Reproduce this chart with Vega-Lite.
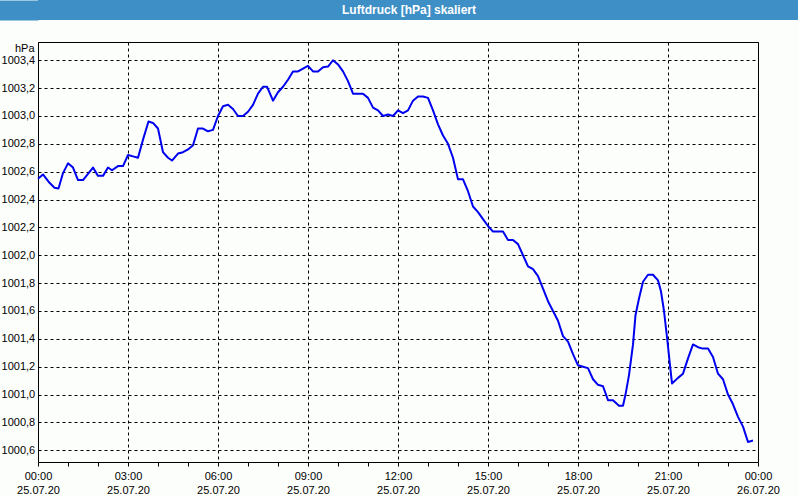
{
  "$schema": "https://vega.github.io/schema/vega-lite/v6.json",
  "background": "#fcfefc",
  "padding": {"left": 0, "top": 0, "right": 0, "bottom": 0},
  "spacing": 21,
  "config": {
    "view": {"stroke": "#000000", "strokeWidth": 1},
    "font": "Liberation Sans"
  },
  "vconcat": [
    {
      "width": 760,
      "height": 20,
      "view": {"fill": "#3d8fc6", "stroke": null},
      "data": {"values": [{"title": "Luftdruck [hPa] skaliert", "mid": 0.5}]},
      "mark": {"type": "text", "color": "#ffffff", "font": "Liberation Sans", "fontSize": 12, "fontWeight": "bold", "baseline": "middle", "align": "center", "dx": -9},
      "encoding": {
        "text": {"field": "title", "type": "nominal"},
        "y": {
          "field": "mid",
          "type": "quantitative",
          "scale": {"domain": [0, 1], "nice": false, "zero": false},
          "axis": {
            "title": null,
            "labels": false,
            "ticks": false,
            "grid": false,
            "domain": true,
            "domainColor": "#3d8fc6",
            "domainWidth": 40,
            "domainCap": "butt",
            "offset": 20
          }
        }
      }
    },
    {
      "width": 720,
      "height": 420,
      "data": {"values": [
        {"t": "2020-07-25T00:00:00Z", "p": 1002.55},
        {"t": "2020-07-25T00:10:00Z", "p": 1002.58},
        {"t": "2020-07-25T00:23:00Z", "p": 1002.52},
        {"t": "2020-07-25T00:33:00Z", "p": 1002.485},
        {"t": "2020-07-25T00:41:00Z", "p": 1002.48},
        {"t": "2020-07-25T00:50:00Z", "p": 1002.59},
        {"t": "2020-07-25T01:00:00Z", "p": 1002.66},
        {"t": "2020-07-25T01:10:00Z", "p": 1002.63},
        {"t": "2020-07-25T01:20:00Z", "p": 1002.54},
        {"t": "2020-07-25T01:30:00Z", "p": 1002.54},
        {"t": "2020-07-25T01:50:00Z", "p": 1002.63},
        {"t": "2020-07-25T02:00:00Z", "p": 1002.57},
        {"t": "2020-07-25T02:10:00Z", "p": 1002.57},
        {"t": "2020-07-25T02:20:00Z", "p": 1002.63},
        {"t": "2020-07-25T02:28:00Z", "p": 1002.61},
        {"t": "2020-07-25T02:40:00Z", "p": 1002.64},
        {"t": "2020-07-25T02:50:00Z", "p": 1002.64},
        {"t": "2020-07-25T03:00:00Z", "p": 1002.72},
        {"t": "2020-07-25T03:10:00Z", "p": 1002.71},
        {"t": "2020-07-25T03:20:00Z", "p": 1002.70},
        {"t": "2020-07-25T03:30:00Z", "p": 1002.83},
        {"t": "2020-07-25T03:41:00Z", "p": 1002.96},
        {"t": "2020-07-25T03:50:00Z", "p": 1002.95},
        {"t": "2020-07-25T04:00:00Z", "p": 1002.91},
        {"t": "2020-07-25T04:10:00Z", "p": 1002.74},
        {"t": "2020-07-25T04:20:00Z", "p": 1002.70},
        {"t": "2020-07-25T04:28:00Z", "p": 1002.68},
        {"t": "2020-07-25T04:40:00Z", "p": 1002.73},
        {"t": "2020-07-25T04:50:00Z", "p": 1002.74},
        {"t": "2020-07-25T05:00:00Z", "p": 1002.76},
        {"t": "2020-07-25T05:10:00Z", "p": 1002.79},
        {"t": "2020-07-25T05:20:00Z", "p": 1002.91},
        {"t": "2020-07-25T05:30:00Z", "p": 1002.91},
        {"t": "2020-07-25T05:40:00Z", "p": 1002.89},
        {"t": "2020-07-25T05:50:00Z", "p": 1002.90},
        {"t": "2020-07-25T06:00:00Z", "p": 1003.00},
        {"t": "2020-07-25T06:10:00Z", "p": 1003.07},
        {"t": "2020-07-25T06:20:00Z", "p": 1003.08},
        {"t": "2020-07-25T06:30:00Z", "p": 1003.05},
        {"t": "2020-07-25T06:40:00Z", "p": 1003.00},
        {"t": "2020-07-25T06:50:00Z", "p": 1003.00},
        {"t": "2020-07-25T07:00:00Z", "p": 1003.03},
        {"t": "2020-07-25T07:10:00Z", "p": 1003.08},
        {"t": "2020-07-25T07:20:00Z", "p": 1003.16},
        {"t": "2020-07-25T07:30:00Z", "p": 1003.21},
        {"t": "2020-07-25T07:38:00Z", "p": 1003.21},
        {"t": "2020-07-25T07:50:00Z", "p": 1003.11},
        {"t": "2020-07-25T08:00:00Z", "p": 1003.17},
        {"t": "2020-07-25T08:10:00Z", "p": 1003.21},
        {"t": "2020-07-25T08:20:00Z", "p": 1003.26},
        {"t": "2020-07-25T08:30:00Z", "p": 1003.32},
        {"t": "2020-07-25T08:40:00Z", "p": 1003.32},
        {"t": "2020-07-25T08:50:00Z", "p": 1003.34},
        {"t": "2020-07-25T09:00:00Z", "p": 1003.36},
        {"t": "2020-07-25T09:10:00Z", "p": 1003.32},
        {"t": "2020-07-25T09:20:00Z", "p": 1003.32},
        {"t": "2020-07-25T09:30:00Z", "p": 1003.35},
        {"t": "2020-07-25T09:40:00Z", "p": 1003.355},
        {"t": "2020-07-25T09:50:00Z", "p": 1003.40},
        {"t": "2020-07-25T10:00:00Z", "p": 1003.37},
        {"t": "2020-07-25T10:10:00Z", "p": 1003.32},
        {"t": "2020-07-25T10:20:00Z", "p": 1003.25},
        {"t": "2020-07-25T10:30:00Z", "p": 1003.16},
        {"t": "2020-07-25T10:40:00Z", "p": 1003.16},
        {"t": "2020-07-25T10:50:00Z", "p": 1003.16},
        {"t": "2020-07-25T11:00:00Z", "p": 1003.13},
        {"t": "2020-07-25T11:10:00Z", "p": 1003.06},
        {"t": "2020-07-25T11:20:00Z", "p": 1003.04},
        {"t": "2020-07-25T11:30:00Z", "p": 1003.00},
        {"t": "2020-07-25T11:40:00Z", "p": 1003.01},
        {"t": "2020-07-25T11:50:00Z", "p": 1003.00},
        {"t": "2020-07-25T12:00:00Z", "p": 1003.04},
        {"t": "2020-07-25T12:10:00Z", "p": 1003.02},
        {"t": "2020-07-25T12:20:00Z", "p": 1003.04},
        {"t": "2020-07-25T12:30:00Z", "p": 1003.11},
        {"t": "2020-07-25T12:40:00Z", "p": 1003.14},
        {"t": "2020-07-25T12:50:00Z", "p": 1003.14},
        {"t": "2020-07-25T13:00:00Z", "p": 1003.13},
        {"t": "2020-07-25T13:10:00Z", "p": 1003.04},
        {"t": "2020-07-25T13:20:00Z", "p": 1002.94},
        {"t": "2020-07-25T13:30:00Z", "p": 1002.86},
        {"t": "2020-07-25T13:40:00Z", "p": 1002.80},
        {"t": "2020-07-25T13:50:00Z", "p": 1002.70},
        {"t": "2020-07-25T14:00:00Z", "p": 1002.545},
        {"t": "2020-07-25T14:10:00Z", "p": 1002.545},
        {"t": "2020-07-25T14:20:00Z", "p": 1002.46},
        {"t": "2020-07-25T14:30:00Z", "p": 1002.35},
        {"t": "2020-07-25T14:40:00Z", "p": 1002.31},
        {"t": "2020-07-25T14:50:00Z", "p": 1002.26},
        {"t": "2020-07-25T15:00:00Z", "p": 1002.21},
        {"t": "2020-07-25T15:10:00Z", "p": 1002.17},
        {"t": "2020-07-25T15:20:00Z", "p": 1002.17},
        {"t": "2020-07-25T15:30:00Z", "p": 1002.17},
        {"t": "2020-07-25T15:40:00Z", "p": 1002.11},
        {"t": "2020-07-25T15:50:00Z", "p": 1002.11},
        {"t": "2020-07-25T16:00:00Z", "p": 1002.08},
        {"t": "2020-07-25T16:10:00Z", "p": 1002.00},
        {"t": "2020-07-25T16:20:00Z", "p": 1001.92},
        {"t": "2020-07-25T16:30:00Z", "p": 1001.90},
        {"t": "2020-07-25T16:40:00Z", "p": 1001.85},
        {"t": "2020-07-25T16:50:00Z", "p": 1001.76},
        {"t": "2020-07-25T17:00:00Z", "p": 1001.67},
        {"t": "2020-07-25T17:10:00Z", "p": 1001.60},
        {"t": "2020-07-25T17:20:00Z", "p": 1001.53},
        {"t": "2020-07-25T17:30:00Z", "p": 1001.42},
        {"t": "2020-07-25T17:40:00Z", "p": 1001.38},
        {"t": "2020-07-25T17:50:00Z", "p": 1001.29},
        {"t": "2020-07-25T18:00:00Z", "p": 1001.21},
        {"t": "2020-07-25T18:10:00Z", "p": 1001.20},
        {"t": "2020-07-25T18:20:00Z", "p": 1001.19},
        {"t": "2020-07-25T18:30:00Z", "p": 1001.11},
        {"t": "2020-07-25T18:40:00Z", "p": 1001.07},
        {"t": "2020-07-25T18:50:00Z", "p": 1001.06},
        {"t": "2020-07-25T19:00:00Z", "p": 1000.96},
        {"t": "2020-07-25T19:10:00Z", "p": 1000.96},
        {"t": "2020-07-25T19:22:00Z", "p": 1000.92},
        {"t": "2020-07-25T19:30:00Z", "p": 1000.92},
        {"t": "2020-07-25T19:35:00Z", "p": 1001.00},
        {"t": "2020-07-25T19:42:00Z", "p": 1001.14},
        {"t": "2020-07-25T19:50:00Z", "p": 1001.36},
        {"t": "2020-07-25T19:55:00Z", "p": 1001.57},
        {"t": "2020-07-25T20:02:00Z", "p": 1001.69},
        {"t": "2020-07-25T20:10:00Z", "p": 1001.81},
        {"t": "2020-07-25T20:20:00Z", "p": 1001.86},
        {"t": "2020-07-25T20:30:00Z", "p": 1001.86},
        {"t": "2020-07-25T20:40:00Z", "p": 1001.82},
        {"t": "2020-07-25T20:46:00Z", "p": 1001.74},
        {"t": "2020-07-25T20:52:00Z", "p": 1001.60},
        {"t": "2020-07-25T20:59:00Z", "p": 1001.38},
        {"t": "2020-07-25T21:04:00Z", "p": 1001.21},
        {"t": "2020-07-25T21:08:00Z", "p": 1001.08},
        {"t": "2020-07-25T21:20:00Z", "p": 1001.12},
        {"t": "2020-07-25T21:30:00Z", "p": 1001.15},
        {"t": "2020-07-25T21:40:00Z", "p": 1001.26},
        {"t": "2020-07-25T21:50:00Z", "p": 1001.36},
        {"t": "2020-07-25T22:00:00Z", "p": 1001.34},
        {"t": "2020-07-25T22:10:00Z", "p": 1001.33},
        {"t": "2020-07-25T22:20:00Z", "p": 1001.33},
        {"t": "2020-07-25T22:30:00Z", "p": 1001.27},
        {"t": "2020-07-25T22:40:00Z", "p": 1001.15},
        {"t": "2020-07-25T22:50:00Z", "p": 1001.11},
        {"t": "2020-07-25T23:00:00Z", "p": 1001.00},
        {"t": "2020-07-25T23:10:00Z", "p": 1000.93},
        {"t": "2020-07-25T23:20:00Z", "p": 1000.84},
        {"t": "2020-07-25T23:30:00Z", "p": 1000.77},
        {"t": "2020-07-25T23:40:00Z", "p": 1000.66},
        {"t": "2020-07-25T23:50:00Z", "p": 1000.67}
      ]},
      "mark": {"type": "line", "color": "#0000f0", "strokeWidth": 2, "strokeJoin": "round"},
      "encoding": {
        "x": {
          "field": "t",
          "type": "temporal",
          "scale": {
            "type": "utc",
            "nice": false,
            "domain": [
              {"year": 2020, "month": 7, "date": 25, "hours": 0, "utc": true},
              {"year": 2020, "month": 7, "date": 26, "hours": 0, "utc": true}
            ]
          },
          "axis": {
            "title": null,
            "domain": false,
            "values": [
              {"year": 2020, "month": 7, "date": 25, "hours": 0, "utc": true},
              {"year": 2020, "month": 7, "date": 25, "hours": 1, "utc": true},
              {"year": 2020, "month": 7, "date": 25, "hours": 2, "utc": true},
              {"year": 2020, "month": 7, "date": 25, "hours": 3, "utc": true},
              {"year": 2020, "month": 7, "date": 25, "hours": 4, "utc": true},
              {"year": 2020, "month": 7, "date": 25, "hours": 5, "utc": true},
              {"year": 2020, "month": 7, "date": 25, "hours": 6, "utc": true},
              {"year": 2020, "month": 7, "date": 25, "hours": 7, "utc": true},
              {"year": 2020, "month": 7, "date": 25, "hours": 8, "utc": true},
              {"year": 2020, "month": 7, "date": 25, "hours": 9, "utc": true},
              {"year": 2020, "month": 7, "date": 25, "hours": 10, "utc": true},
              {"year": 2020, "month": 7, "date": 25, "hours": 11, "utc": true},
              {"year": 2020, "month": 7, "date": 25, "hours": 12, "utc": true},
              {"year": 2020, "month": 7, "date": 25, "hours": 13, "utc": true},
              {"year": 2020, "month": 7, "date": 25, "hours": 14, "utc": true},
              {"year": 2020, "month": 7, "date": 25, "hours": 15, "utc": true},
              {"year": 2020, "month": 7, "date": 25, "hours": 16, "utc": true},
              {"year": 2020, "month": 7, "date": 25, "hours": 17, "utc": true},
              {"year": 2020, "month": 7, "date": 25, "hours": 18, "utc": true},
              {"year": 2020, "month": 7, "date": 25, "hours": 19, "utc": true},
              {"year": 2020, "month": 7, "date": 25, "hours": 20, "utc": true},
              {"year": 2020, "month": 7, "date": 25, "hours": 21, "utc": true},
              {"year": 2020, "month": 7, "date": 25, "hours": 22, "utc": true},
              {"year": 2020, "month": 7, "date": 25, "hours": 23, "utc": true},
              {"year": 2020, "month": 7, "date": 26, "hours": 0, "utc": true}
            ],
            "labelExpr": "utchours(datum.value) % 3 == 0 ? [utcFormat(datum.value, '%H:%M'), utcFormat(datum.value, '%d.%m.%y')] : ''",
            "labelFont": "Liberation Sans",
            "labelFontSize": 11,
            "labelColor": "#000000",
            "labelLineHeight": 14.5,
            "labelBaseline": "top",
            "labelPadding": 4,
            "labelFlush": false,
            "labelOverlap": false,
            "ticks": true,
            "tickSize": 4,
            "tickColor": "#000000",
            "grid": true,
            "gridColor": "#000000",
            "gridDash": [3, 3],
            "gridWidth": 1,
            "gridOpacity": {"condition": {"test": "utchours(datum.value) % 3 == 0", "value": 1}, "value": 0}
          }
        },
        "y": {
          "field": "p",
          "type": "quantitative",
          "scale": {"domain": [1000.516, 1003.531], "nice": false, "zero": false},
          "axis": {
            "title": "hPa",
            "titleAngle": 0,
            "titleAlign": "right",
            "titleBaseline": "alphabetic",
            "titleX": -4,
            "titleY": 9,
            "titleFont": "Liberation Sans",
            "titleFontSize": 11,
            "titleFontWeight": "normal",
            "titleColor": "#000000",
            "domain": false,
            "ticks": false,
            "tickSize": 0,
            "values": [1000.6, 1000.8, 1001.0, 1001.2, 1001.4, 1001.6, 1001.8, 1002.0, 1002.2, 1002.4, 1002.6, 1002.8, 1003.0, 1003.2, 1003.4],
            "labelExpr": "replace(format(datum.value, '.1f'), '.', ',')",
            "labelFont": "Liberation Sans",
            "labelFontSize": 11,
            "labelColor": "#000000",
            "labelPadding": 3.3,
            "labelBaseline": "middle",
            "labelFlush": false,
            "labelOverlap": false,
            "grid": true,
            "gridColor": "#000000",
            "gridDash": [3, 3],
            "gridWidth": 1
          }
        }
      }
    }
  ]
}
